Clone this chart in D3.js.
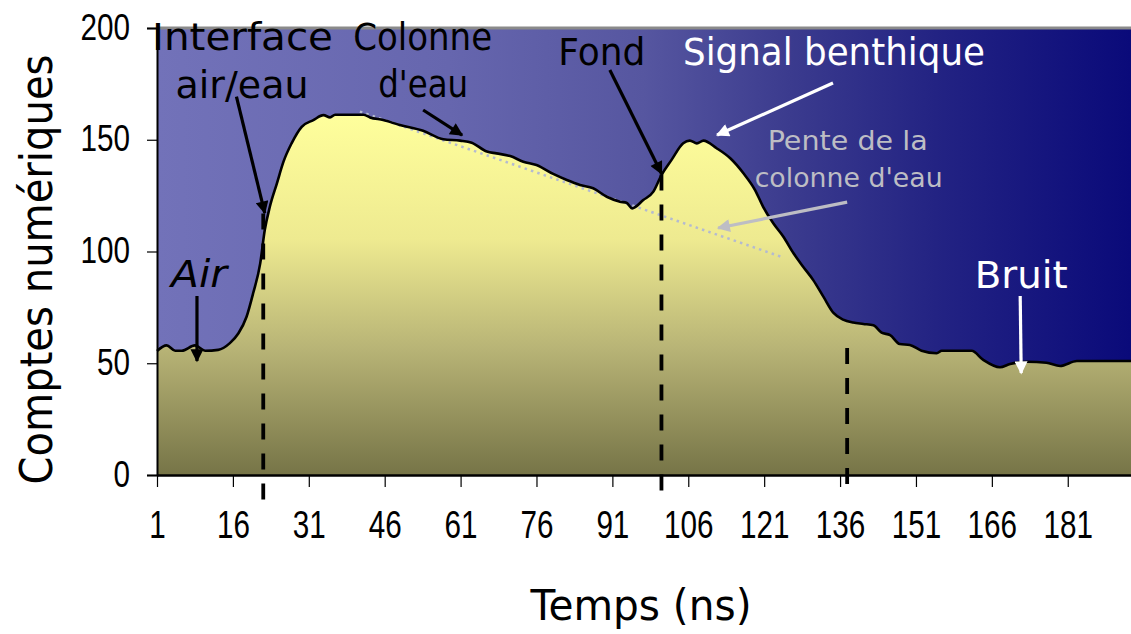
<!DOCTYPE html>
<html>
<head>
<meta charset="utf-8">
<script src="https://cdn.jsdelivr.net/npm/d3@7"></script>
<style>
  html, body { margin: 0; padding: 0; background: #ffffff; }
  svg { display: block; }
</style>
</head>
<body>
<svg id="chart" width="1131" height="634"></svg>
<script>
// ---------------- DATA ----------------
const timeNs = [1, 2.9, 4.6, 5.9, 8.5, 10.5, 13.1, 15.4, 17.1, 18.7, 20.0, 21.4, 22.3, 23.3, 24.7, 26.0, 27.6, 29.6, 31.9, 33.9, 35.2, 36.2, 39.1, 41.8, 43.1, 45.7, 49.0, 53.6, 57.6, 60.9, 63.2, 66.2, 68.1, 70.8, 73.4, 76.0, 79.3, 82.0, 84.6, 87.2, 89.9, 92.5, 93.8, 94.9, 97.1, 99.1, 100.7, 102.7, 105.0, 106.3, 107.7, 109.0, 111.6, 114.3, 116.9, 119.2, 120.8, 122.8, 124.8, 126.8, 128.7, 130.7, 132.7, 134.7, 136.6, 138.6, 140.6, 142.6, 144.2, 145.9, 147.8, 149.8, 152.1, 155.1, 156.1, 162.0, 164.3, 167.6, 169.6, 172.9, 176.8, 179.5, 182.8, 193.5];
const counts = [55.5, 58, 55.6, 55.6, 58, 55.6, 56, 59, 63.4, 70.8, 81.3, 94.7, 109.6, 120, 130.5, 140.2, 148.4, 155.8, 158.8, 161, 160, 161.2, 161.2, 161.2, 160, 158.8, 156.6, 154, 150.2, 149.6, 148.7, 144.7, 143.9, 142.7, 140.2, 138.7, 134.7, 132, 129.8, 128.3, 124.5, 122.3, 121.8, 119.3, 123, 126.8, 134.2, 141, 148.4, 149.6, 148.4, 149.6, 146.2, 141.7, 135, 127.5, 120, 112.6, 106.6, 99.2, 93.2, 87.2, 79.8, 72.5, 69.5, 68.2, 67.6, 67, 63.7, 62.6, 58.6, 58.2, 55.6, 54.5, 55.6, 55.6, 51.5, 48.2, 49.7, 50.7, 50.2, 48.8, 51, 51];

const xTickLabels = [1, 16, 31, 46, 61, 76, 91, 106, 121, 136, 151, 166, 181];
const yTickValues = [0, 50, 100, 150, 200];
const xDomain = [1, 193.5];
const yDomain = [0, 200];

// vertical dashed markers: time, top count, bottom count
const markerTimes = [22.0, 100.7, 137.4];
const markerTops = [117, 134.5, 56.8];
const markerBottoms = [-14.3, -12.5, -6.7];

// water column slope (dotted): [t, count] ends
const slopeTimes = [41.1, 124.3];
const slopeCounts = [162.6, 97.7];

// labels
const labelTexts = ["Interface", "air/eau", "Colonne", "d'eau", "Fond", "Signal benthique", "Pente de la", "colonne d'eau", "Air", "Bruit"];
const labelTimes = [17.9, 17.8, 53.5, 53.6, 88.9, 134.8, 137.5, 137.7, 9.3, 171.8];
const labelCounts = [190.2, 168.7, 190.2, 169.1, 183.4, 183.4, 145.4, 128.9, 84.1, 83.7];
const labelKinds = ["dark", "dark", "dark", "dark", "dark", "light", "grey", "grey", "dark", "light"];

// arrows: from (t,count) to (t,count)
const arrowFromT = [16.7, 8.9, 53.6, 90.5, 134.6, 137.4, 171.6];
const arrowFromC = [169.3, 80.1, 163.3, 181.2, 175.4, 122.1, 80.1];
const arrowToT = [22.3, 8.9, 61.3, 100.7, 111.7, 111.9, 171.8];
const arrowToC = [117.2, 51.0, 152.1, 134.9, 152.1, 110.5, 45.6];
const arrowKinds = ["dark", "dark", "dark", "dark", "light", "grey", "light"];

// ---------------- CHART ----------------
const svg = d3.select("#chart");
const mL = 157, mR = 1131, mT = 28, mB = 475;

const x = d3.scaleLinear().domain(xDomain).range([mL, mR]);
const y = d3.scaleLinear().domain(yDomain).range([mB, mT]);

const kindColor = { dark: "#000000", light: "#ffffff", grey: "#bdbdc4" };
const comic = "'Comic Sans MS', 'DejaVu Sans', sans-serif";
const narrow = "'Liberation Sans Narrow', 'Arial Narrow', 'Liberation Sans', Arial, sans-serif";

const defs = svg.append("defs");
const bg = defs.append("linearGradient").attr("id", "bgGrad")
  .attr("gradientUnits", "userSpaceOnUse")
  .attr("x1", mL).attr("x2", mR).attr("y1", 0).attr("y2", 0);
[[0, "#7272b9"], [0.3, "#6666ae"], [0.5, "#5656a0"], [0.65, "#3b3b8e"], [0.8, "#232383"], [1, "#0a0a7a"]]
  .forEach(([o, c]) => bg.append("stop").attr("offset", o).attr("stop-color", c));

const fg = defs.append("linearGradient").attr("id", "fillGrad")
  .attr("gradientUnits", "userSpaceOnUse")
  .attr("x1", 0).attr("x2", 0).attr("y1", y(162)).attr("y2", y(0));
[[0, "#ffff9c"], [0.35, "#eeea90"], [0.65, "#b8b476"], [1, "#767447"]]
  .forEach(([o, c]) => fg.append("stop").attr("offset", o).attr("stop-color", c));

Object.entries(kindColor).forEach(([k, c]) => {
  defs.append("marker").attr("id", "ah-" + k)
    .attr("viewBox", "0 0 10 10").attr("refX", 9).attr("refY", 5)
    .attr("markerUnits", "userSpaceOnUse")
    .attr("markerWidth", 15).attr("markerHeight", 13)
    .attr("orient", "auto")
    .append("path").attr("d", "M0,0 L10,5 L0,10 Z").attr("fill", c);
});

// plot background
svg.append("rect").attr("x", mL).attr("y", mT)
  .attr("width", mR - mL).attr("height", mB - mT)
  .attr("fill", "url(#bgGrad)");
// top grey border
svg.append("line").attr("x1", mL).attr("x2", mR).attr("y1", mT).attr("y2", mT)
  .attr("stroke", "#8a8a8a").attr("stroke-width", 3);

const pts = timeNs.map((t, i) => [t, counts[i]]);

svg.append("path").datum(pts)
  .attr("d", d3.area().curve(d3.curveMonotoneX).x(d => x(d[0])).y0(y(0)).y1(d => y(d[1])))
  .attr("fill", "url(#fillGrad)");

// dotted slope line
svg.append("line")
  .attr("x1", x(slopeTimes[0])).attr("y1", y(slopeCounts[0]))
  .attr("x2", x(slopeTimes[1])).attr("y2", y(slopeCounts[1]))
  .attr("stroke", "#b4bad0").attr("stroke-width", 2.5)
  .attr("stroke-dasharray", "2.5,4.2").attr("stroke-linecap", "butt");

svg.append("path").datum(pts)
  .attr("d", d3.line().curve(d3.curveMonotoneX).x(d => x(d[0])).y(d => y(d[1])))
  .attr("fill", "none").attr("stroke", "#000").attr("stroke-width", 2.6)
  .attr("stroke-linejoin", "round");

// axes
const digitW = 16.5;
const yAxis = svg.append("g").attr("transform", `translate(${mL},0)`)
  .call(d3.axisLeft(y).tickValues(yTickValues).tickSize(10).tickPadding(17).tickFormat(d3.format("d")));
yAxis.select(".domain").attr("stroke", "#000").attr("stroke-width", 2);
yAxis.selectAll(".tick line").attr("stroke", "#000").attr("stroke-width", 1.2);
yAxis.selectAll(".tick text").attr("font-family", narrow).attr("font-size", 37).attr("fill", "#000")
  .attr("dy", "0.3em")
  .attr("textLength", d => String(d).length * digitW).attr("lengthAdjust", "spacingAndGlyphs");

const xAxis = svg.append("g").attr("transform", `translate(0,${mB})`)
  .call(d3.axisBottom(x).tickValues(xTickLabels).tickSize(12).tickPadding(24).tickFormat(d3.format("d")).tickSizeOuter(0));
xAxis.select(".domain").attr("stroke", "#000").attr("stroke-width", 2.5);
xAxis.selectAll(".tick line").attr("stroke", "#000").attr("stroke-width", 1.2);
xAxis.selectAll(".tick text").attr("font-family", narrow).attr("font-size", 38).attr("fill", "#000")
  .attr("textLength", d => String(d).length * digitW).attr("lengthAdjust", "spacingAndGlyphs");

// dashed vertical markers
svg.selectAll(".marker").data(markerTimes).enter().append("line")
  .attr("class", "marker")
  .attr("x1", d => x(d)).attr("x2", d => x(d))
  .attr("y1", (d, i) => y(markerTops[i])).attr("y2", (d, i) => y(markerBottoms[i]))
  .attr("stroke", "#000").attr("stroke-width", 3.8).attr("stroke-dasharray", "16,14");

// arrows
svg.selectAll(".arrow").data(arrowFromT).enter().append("line")
  .attr("class", "arrow")
  .attr("x1", (d, i) => x(arrowFromT[i])).attr("y1", (d, i) => y(arrowFromC[i]))
  .attr("x2", (d, i) => x(arrowToT[i])).attr("y2", (d, i) => y(arrowToC[i]))
  .attr("stroke", (d, i) => kindColor[arrowKinds[i]])
  .attr("stroke-width", 3.2)
  .attr("marker-end", (d, i) => `url(#ah-${arrowKinds[i]})`);

// labels
const labelSizes = { dark: 37, light: 37, grey: 27 };
const labelWidths = [181, 133, 139, 90, 87, 302, 160, 188, 56, 93];
svg.selectAll(".lab").data(labelTexts).enter().append("text")
  .attr("class", "lab")
  .attr("x", (d, i) => x(labelTimes[i]))
  .attr("y", (d, i) => y(labelCounts[i]))
  .attr("text-anchor", "middle")
  .attr("font-family", comic)
  .attr("font-size", (d, i) => labelSizes[labelKinds[i]])
  .attr("font-style", d => d === "Air" ? "italic" : "normal")
  .attr("textLength", (d, i) => labelWidths[i])
  .attr("lengthAdjust", "spacingAndGlyphs")
  .attr("fill", (d, i) => kindColor[labelKinds[i]])
  .text(d => d);

// axis titles
svg.append("text")
  .attr("transform", `translate(52,${(mT + mB) / 2 + 18}) rotate(-90)`)
  .attr("text-anchor", "middle")
  .attr("font-family", comic).attr("font-size", 44)
  .attr("textLength", 430).attr("lengthAdjust", "spacingAndGlyphs")
  .attr("fill", "#000")
  .text("Comptes numériques");

svg.append("text")
  .attr("x", (mL + mR) / 2 - 3).attr("y", 620)
  .attr("text-anchor", "middle")
  .attr("font-family", comic).attr("font-size", 42)
  .attr("textLength", 221).attr("lengthAdjust", "spacingAndGlyphs")
  .attr("fill", "#000")
  .text("Temps (ns)");
</script>
</body>
</html>
